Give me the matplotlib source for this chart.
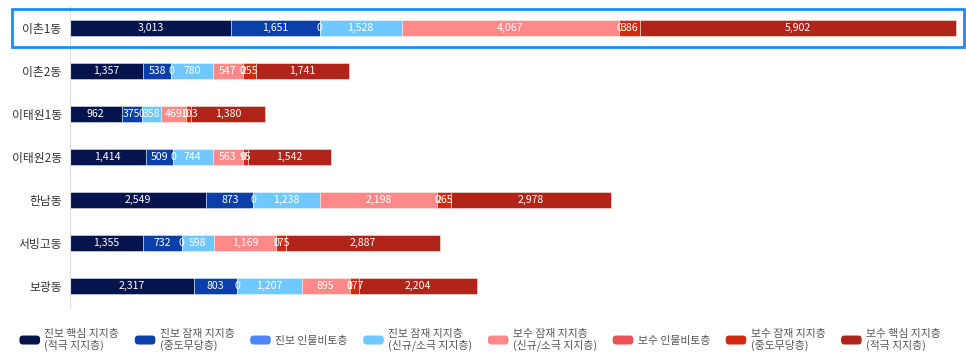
import matplotlib
matplotlib.use("Agg")
import matplotlib.pyplot as plt
import numpy as np
from matplotlib.patches import Rectangle, FancyBboxPatch
from matplotlib.legend_handler import HandlerPatch

plt.rcParams['font.family'] = ['Noto Sans CJK KR', 'DejaVu Sans']

categories = ["이촌1동", "이촌2동", "이태원1동", "이태원2동", "한남동", "서빙고동", "보광동"]
series_names = [
    "진보 핵심 지지층\n(적극 지지층)",
    "진보 잠재 지지층\n(중도무당층)",
    "진보 인물비토층",
    "진보 잠재 지지층\n(신규/소극 지지층)",
    "보수 잠재 지지층\n(신규/소극 지지층)",
    "보수 인물비토층",
    "보수 잠재 지지층\n(중도무당층)",
    "보수 핵심 지지층\n(적극 지지층)",
]
prog_core = [3013, 1357, 962, 1414, 2549, 1355, 2317]
prog_mid = [1651, 538, 375, 509, 873, 732, 803]
prog_veto = [0, 0, 0, 0, 0, 0, 0]
prog_new = [1528, 780, 358, 744, 1238, 598, 1207]
cons_new = [4067, 547, 469, 563, 2198, 1169, 895]
cons_veto = [0, 0, 0, 0, 0, 0, 0]
cons_mid = [386, 255, 103, 95, 265, 175, 177]
cons_core = [5902, 1741, 1380, 1542, 2978, 2887, 2204]
colors = ["#06144d", "#0a3ea8", "#4f86ff", "#6fc8ff", "#ff8888", "#ee5058", "#d0290f", "#b0241a"]

series = [prog_core, prog_mid, prog_veto, prog_new, cons_new, cons_veto, cons_mid, cons_core]


class RoundHandler(HandlerPatch):
    def create_artists(self, legend, orig_handle, xdescent, ydescent,
                       width, height, fontsize, trans):
        p = FancyBboxPatch((-xdescent, -ydescent), width, height,
                           boxstyle="round,pad=0,rounding_size=2.5",
                           facecolor=orig_handle.get_facecolor(),
                           edgecolor="none", transform=trans)
        return [p]


W, H = 966, 363
fig = plt.figure(figsize=(W / 100, H / 100), dpi=100)
ax = fig.add_axes([70 / W, 1 - 308 / H, 890 / W, 302 / H])

y = np.arange(len(categories))
left = np.zeros(len(categories))
for vals, name, col in zip(series, series_names, colors):
    v = np.array(vals, dtype=float)
    ax.barh(y, v, left=left, height=0.37, color=col,
            edgecolor=(1, 1, 1, 0.5), linewidth=0.6)
    for yi, (l, val) in enumerate(zip(left, v)):
        ax.text(l + val / 2, yi, f"{int(val):,}", ha="center", va="center",
                color="white", fontsize=7.6)
    left = left + v

totals = left
ax.set_xlim(0, totals.max() * 890 / 886)
ax.set_ylim(len(categories) - 0.5, -0.5)
ax.set_yticks(y)
ax.set_yticklabels(categories, fontsize=8.5, color="#333333")
ax.tick_params(axis="y", length=0, pad=6)
ax.set_xticks([])
for s in ["top", "right", "bottom"]:
    ax.spines[s].set_visible(False)
ax.spines["left"].set_color("#dddddd")
ax.spines["left"].set_linewidth(0.8)

# highlight box around first row
fig.patches.append(Rectangle((12 / W, 1 - 47 / H), 952 / W, 38 / H,
                             transform=fig.transFigure, fill=False,
                             edgecolor="#1a8cff", linewidth=2))

proxies = [Rectangle((0, 0), 1, 1, facecolor=c) for c in colors]
leg = fig.legend(proxies, series_names, loc="center", bbox_to_anchor=(0.497, 0.064),
                 ncol=8, frameon=False, fontsize=7.8, handlelength=1.9,
                 handleheight=0.9, handletextpad=0.4, columnspacing=1.45,
                 labelcolor="#555555", handler_map={Rectangle: RoundHandler()})
for t in leg.get_texts():
    t.set_linespacing(1.1)

fig.savefig("out.png", dpi=100)
